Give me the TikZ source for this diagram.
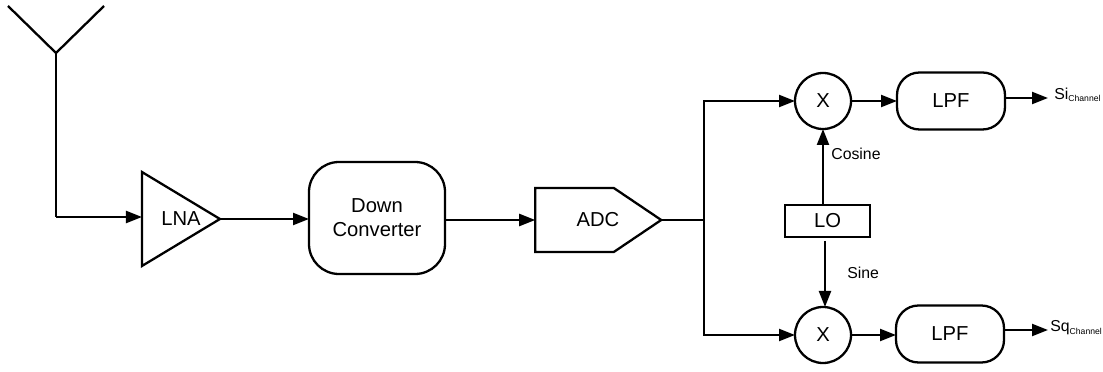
\documentclass[tikz,border=0pt]{standalone}
\usepackage{fontspec}
\setmainfont{Liberation Sans}
\usepackage{xcolor}
\usepackage{tikz}
\usetikzlibrary{arrows.meta, shapes.geometric, shapes.symbols}

\tikzset{
    every node/.style={font=\fontsize{11.5}{13.6}\selectfont},
    wire/.style={line width=1.3pt, line join=miter},
    flow/.style={wire, -{Triangle[length=3.2mm, width=2.4mm]}},
    outline/.style={draw, line width=1.3pt, outer sep=0pt},
    lnabox/.style={outline, isosceles triangle, isosceles triangle stretches, shape border rotate=0, minimum width=1.88cm, minimum height=1.56cm, inner sep=0pt},
    adcbox/.style={outline, signal, signal to=east, signal pointer angle=68, minimum width=2.52cm, minimum height=1.28cm, inner sep=0pt},
    mixbox/.style={outline, circle, minimum size=1.12cm, inner sep=0pt},
    lpfbox/.style={outline, rectangle, rounded corners=.45cm, minimum width=2.16cm, minimum height=1.14cm},
    tag/.style={font=\small, inner sep=0pt, anchor=west}
}
\newcommand{\chantext}[1]{#1\raisebox{-.3ex}{\fontsize{4.9}{6}\selectfont Channel}}

\begin{document}
\begin{tikzpicture}
    \useasboundingbox (0,0) rectangle (22.06,7.42);

    \coordinate (tipl) at (0.16,7.30);
    \coordinate (tipr) at (2.08,7.30);
    \coordinate (feed) at (1.12,6.36);
    \coordinate (bend) at (1.12,3.08);

    \node[lnabox] (lna) at (3.37,3.04) {};
    \node (lnatext) at (3.62,3.04) {LNA};
    \node[outline, rectangle, rounded corners=.6cm, minimum width=2.72cm, minimum height=2.24cm, align=center] (down) at (7.54,3.06) {Down\\Converter};
    \node[adcbox] (adc) at (11.49,3.02) {};
    \node (adctext) at (11.96,3.02) {ADC};
    \coordinate (fork) at (14.08,3.02);

    \node[mixbox] (mixa) at (16.46,5.40) {X};
    \node[mixbox] (mixb) at (16.46,0.72) {X};
    \node[lpfbox] (lpfa) at (19.02,5.40) {LPF};
    \node[lpfbox] (lpfb) at (19.00,0.74) {LPF};
    \node[outline, rectangle, minimum width=1.7cm, minimum height=.64cm] (lo) at (16.55,3.00) {LO};

    \coordinate (outa) at (20.96,5.46);
    \coordinate (outb) at (20.96,0.82);
    \coordinate (logap) at (16.50,2.60);

    \node[tag] (cos) at (16.62,4.34) {Cosine};
    \node[tag] (sin) at (16.94,1.96) {Sine};
    \node[tag] (sia) at (21.08,5.52) {\chantext{Si}};
    \node[tag] (sqb) at (21.00,0.86) {\chantext{Sq}};

    \draw[wire] (tipl) -- (feed) -- (tipr);
    \draw[wire] (feed) -- (bend);
    \draw[flow] (bend) -- (bend -| lna.west);
    \draw[flow] (lna.east) -- (down.west |- lna.east);
    \draw[flow] (down.east |- adc.west) -- (adc.west);
    \draw[wire] (adc.east) -- (fork);
    \draw[flow] (fork) |- (mixa.west);
    \draw[flow] (fork) |- (mixb.west);
    \draw[flow] (mixa.east) -- (lpfa.west);
    \draw[flow] (mixb.east) -- (lpfb.west |- mixb.east);
    \draw[flow] (mixa |- lo.north) -- (mixa.south);
    \draw[flow] (logap) -- (logap |- mixb.north);
    \draw[flow] (lpfa.east |- outa) -- (outa);
    \draw[flow] (lpfb.east |- outb) -- (outb);
\end{tikzpicture}
\end{document}
